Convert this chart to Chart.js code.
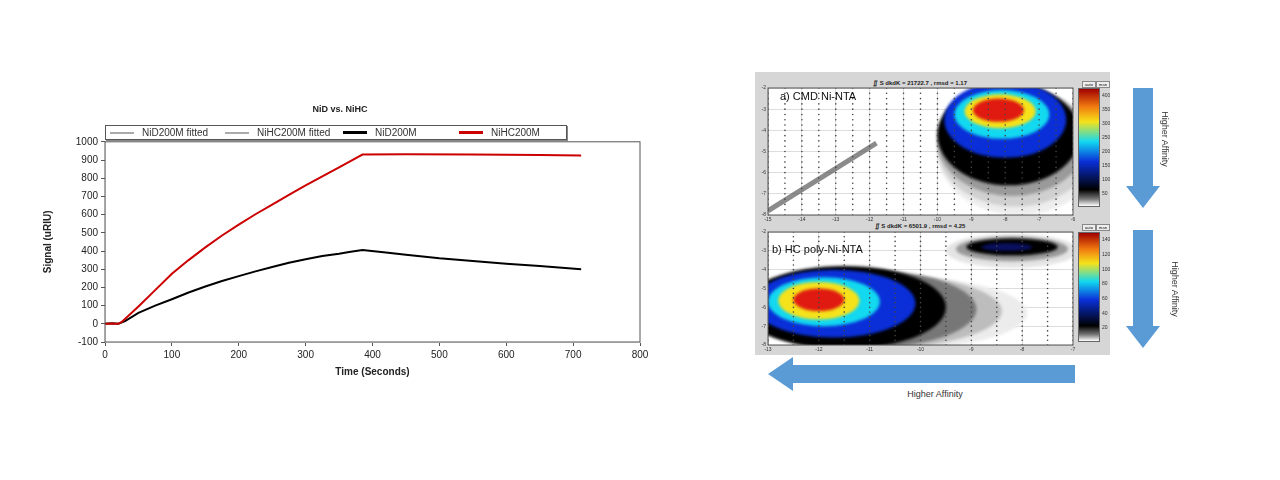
<!DOCTYPE html>
<html><head><meta charset="utf-8">
<script src="https://cdn.jsdelivr.net/npm/chart.js@4"></script>
<style>
body{margin:0;width:1280px;height:480px;background:#fff;position:relative;overflow:hidden;font-family:"Liberation Sans",Arial,sans-serif}
.abs{position:absolute}
#legend{left:105px;top:125px;width:460px;height:13px;border:1px solid #555;box-shadow:1px 1px 0 #888;font-size:10px;color:#333;white-space:nowrap}
#legend span{position:absolute;top:0;display:inline-flex;align-items:center;height:13px}
#legend i{display:inline-block;width:24px;margin-right:8px}
.cb{width:20px;border:1px solid #666}
.cbl{font-size:5px;color:#333}
.ptitle{font-size:6px;font-weight:bold;color:#222;width:330px;text-align:center}
.plabel{font-size:11px;color:#111}
.btn{font-size:4px;border:1px solid #888;background:#eee;width:12px;height:5px;text-align:center;line-height:5px}
.shaft{background:#5b9bd5}
.rot{font-size:9px;color:#333;transform:rotate(90deg);transform-origin:center;white-space:nowrap}
</style></head><body>
<div class="abs" style="left:40px;top:100px;width:620px;height:280px"><canvas id="kin"></canvas></div>
<div id="legend" class="abs">
  <span style="left:4px"><i style="border-top:2px solid #aaa"></i>NiD200M fitted</span>
  <span style="left:119px"><i style="border-top:2px solid #aaa"></i>NiHC200M fitted</span>
  <span style="left:237px"><i style="border-top:3px solid #000"></i>NiD200M</span>
  <span style="left:353px"><i style="border-top:3px solid #c00"></i>NiHC200M</span>
</div>

<div class="abs" style="left:755px;top:72px;width:355px;height:283px;background:#d6d6d6"></div>
<div class="abs ptitle" style="left:755px;top:79px">∬ S dkdK = 21722.7 , rmsd = 1.17</div>
<div class="abs" style="left:755px;top:80px;width:325px;height:142px"><canvas id="pa"></canvas></div>
<div class="abs plabel" style="left:780px;top:90px">a) CMD Ni-NTA</div>
<div class="abs ptitle" style="left:755px;top:222px">∬ S dkdK = 6501.9 , rmsd = 4.25</div>
<div class="abs" style="left:755px;top:225px;width:325px;height:127px"><canvas id="pb"></canvas></div>
<div class="abs plabel" style="left:772px;top:243px">b) HC poly-Ni-NTA</div>
<div class="abs btn" style="left:1082px;top:81px">auto</div><div class="abs btn" style="left:1096px;top:81px">man</div>
<div class="abs btn" style="left:1082px;top:224px">auto</div><div class="abs btn" style="left:1096px;top:224px">man</div>
<div id="cba" class="abs cb" style="left:1078px;top:88px;height:117px"></div>
<div id="cbb" class="abs cb" style="left:1078px;top:232px;height:108px"></div>

<div class="abs shaft" style="left:1133px;top:88px;width:20px;height:98px"></div>
<div class="abs" style="left:1126px;top:186px;width:0;height:0;border-left:17px solid transparent;border-right:17px solid transparent;border-top:22px solid #5b9bd5"></div>
<div class="abs rot" style="left:1130px;top:134px;width:70px;text-align:center">Higher Affinity</div>
<div class="abs shaft" style="left:1133px;top:230px;width:20px;height:96px"></div>
<div class="abs" style="left:1126px;top:326px;width:0;height:0;border-left:17px solid transparent;border-right:17px solid transparent;border-top:22px solid #5b9bd5"></div>
<div class="abs rot" style="left:1140px;top:284px;width:70px;text-align:center">Higher Affinity</div>
<div class="abs shaft" style="left:792px;top:365px;width:283px;height:18px"></div>
<div class="abs" style="left:768px;top:357px;width:0;height:0;border-top:17px solid transparent;border-bottom:17px solid transparent;border-right:25px solid #5b9bd5"></div>
<div class="abs" style="left:880px;top:389px;width:110px;text-align:center;font-size:9px;color:#333">Higher Affinity</div>

<script>
// kinetic sensorgram (seconds, uRIU)
const tRed = [0, 10, 20, 25, 50, 75, 100, 125, 150, 175, 200, 225, 250, 275, 300, 325, 350, 365, 385, 450, 550, 650, 712];
const yRed = [0, 2, 0, 10, 95, 185, 275, 350, 420, 485, 545, 602, 655, 708, 760, 810, 860, 890, 930, 932, 930, 927, 925];
const tBlack = [0, 10, 20, 30, 50, 75, 100, 125, 150, 175, 200, 225, 250, 275, 300, 325, 350, 365, 385, 420, 450, 475, 500, 550, 600, 650, 712];
const yBlack = [0, 3, 0, 15, 60, 100, 135, 172, 205, 235, 262, 288, 312, 335, 355, 372, 385, 395, 405, 392, 380, 370, 360, 345, 330, 318, 300];
const xTicks = [0, 100, 200, 300, 400, 500, 600, 700, 800];

// distribution maps: layers [cx, cy, rx, ry, colour] in log units
const layersA = [
  [-7.6, -5.0, 2.4, 3.0, '#ededed'], [-7.7, -4.8, 2.3, 2.8, '#d0d0d0'], [-7.8, -4.5, 2.2, 2.6, '#9a9a9a'],
  [-7.9, -4.2, 2.1, 2.4, '#000'], [-8.0, -3.5, 1.8, 1.8, '#0a2fd8'], [-8.1, -3.25, 1.4, 1.15, '#12d8f0'],
  [-8.15, -3.1, 1.05, 0.8, '#f5e21a'], [-8.2, -3.05, 0.75, 0.55, '#e01a10']
];
const layersB = [
  [-10.8, -6.3, 2.9, 2.0, '#ececec'], [-11.0, -6.2, 2.6, 2.0, '#bdbdbd'], [-11.2, -6.1, 2.3, 2.1, '#777'],
  [-11.5, -6.0, 2.0, 2.2, '#000'], [-11.7, -5.8, 1.6, 1.8, '#0a2fd8'], [-11.9, -5.7, 1.1, 1.3, '#12d8f0'],
  [-12.0, -5.65, 0.8, 1.0, '#f5e21a'], [-12.0, -5.6, 0.5, 0.6, '#e01a10'],
  [-8.2, -3.0, 1.3, 0.9, '#e4e4e4'], [-8.2, -2.9, 1.1, 0.65, '#999'], [-8.2, -2.8, 0.9, 0.45, '#000'], [-8.3, -2.8, 0.5, 0.2, '#0a1060']
];
const streakA = [{x: -15, y: -7.8}, {x: -11.8, y: -4.6}];
const ticksA = [-15, -14, -13, -12, -11, -10, -9, -8, -7, -6];
const ticksB = [-13, -12, -11, -10, -9, -8, -7];
const ticksY = [-8, -7, -6, -5, -4, -3, -2];
const cbA = ['50', '100', '150', '200', '250', '300', '350', '400'];
const cbB = ['20', '40', '60', '80', '100', '120', '140'];

const boxPlugin = {id: 'box', afterDraw(c) {
  const a = c.chartArea, ctx = c.ctx;
  ctx.save(); ctx.strokeStyle = '#555'; ctx.lineWidth = 1; ctx.strokeRect(a.left, a.top, a.right - a.left, a.bottom - a.top); ctx.restore();
}};

new Chart(document.getElementById('kin'), {
  type: 'line',
  data: {datasets: [
    {data: tRed.map((t, i) => ({x: t, y: yRed[i]})), borderColor: '#c00', borderWidth: 2, pointRadius: 0, tension: 0},
    {data: tBlack.map((t, i) => ({x: t, y: yBlack[i]})), borderColor: '#000', borderWidth: 2, pointRadius: 0, tension: 0}
  ]},
  options: {
    animation: false, responsive: true, maintainAspectRatio: false,
    layout: {padding: {right: 20, top: 0}},
    plugins: {legend: {display: false}, tooltip: {enabled: false},
      title: {display: true, text: 'NiD vs. NiHC', color: '#222', font: {size: 9, weight: 'bold'}, padding: {top: 4, bottom: 27}}},
    scales: {
      x: {type: 'linear', min: 0, max: 800, afterBuildTicks: s => { s.ticks = xTicks.map(v => ({value: v})); },
        grid: {drawOnChartArea: false, tickLength: 4, color: '#555'}, ticks: {color: '#222', font: {size: 10}},
        title: {display: true, text: 'Time (Seconds)', color: '#222', font: {size: 10, weight: 'bold'}, padding: 2}},
      y: {min: -100, max: 1000, afterFit: s => { s.width = 65; },
        grid: {drawOnChartArea: false, tickLength: 4, color: '#555'}, ticks: {stepSize: 100, color: '#222', font: {size: 10}, callback: v => String(v)},
        title: {display: true, text: 'Signal (uRIU)', color: '#222', font: {size: 10, weight: 'bold'}, padding: 2}}
    }
  },
  plugins: [boxPlugin]
});

function blobPlugin(layers) {
  return {id: 'blobs', beforeDatasetsDraw(c) {
    const ctx = c.ctx, a = c.chartArea, xs = c.scales.x, ys = c.scales.y;
    ctx.save(); ctx.beginPath(); ctx.rect(a.left, a.top, a.right - a.left, a.bottom - a.top); ctx.clip();
    ctx.filter = 'blur(1.5px)';
    layers.forEach(([cx, cy, rx, ry, col]) => {
      const px = xs.getPixelForValue(cx), py = ys.getPixelForValue(cy);
      const w = Math.abs(xs.getPixelForValue(cx + rx) - px), h = Math.abs(ys.getPixelForValue(cy + ry) - py);
      ctx.fillStyle = col; ctx.beginPath(); ctx.ellipse(px, py, w, h, 0, 0, Math.PI * 2); ctx.fill();
    });
    ctx.restore();
  }};
}

function mapChart(id, xt, layers, extra, top) {
  const grid = [];
  xt.forEach(x => { for (let k = 0; k < 2; k++) ticksY.forEach(y => { for (let j = 0; j < 4; j++) grid.push({x: x + k * 0.5, y: y + j * 0.25}); }); });
  const sets = [{type: 'scatter', data: grid, pointRadius: 0.8, backgroundColor: '#444', borderWidth: 0}];
  if (extra) sets.push({type: 'line', data: extra, borderColor: 'rgba(90,90,90,0.7)', borderWidth: 5, pointRadius: 0});
  new Chart(document.getElementById(id), {
    type: 'scatter', data: {datasets: sets},
    options: {
      animation: false, responsive: true, maintainAspectRatio: false,
      layout: {padding: {right: 7, top: top}},
      plugins: {legend: {display: false}, tooltip: {enabled: false}},
      scales: {
        x: {type: 'linear', min: xt[0], max: xt[xt.length - 1], afterBuildTicks: s => { s.ticks = xt.map(v => ({value: v})); },
          afterFit: s => { s.height = 7; }, grid: {color: '#ddd', tickLength: 2}, ticks: {font: {size: 5}, color: '#333', padding: 0}},
        y: {min: -8, max: -2, afterBuildTicks: s => { s.ticks = ticksY.map(v => ({value: v})); },
          afterFit: s => { s.width = 13; }, grid: {color: '#ddd', tickLength: 2}, ticks: {font: {size: 5}, color: '#333', padding: 0}}
      }
    },
    plugins: [blobPlugin(layers), boxPlugin, {id: 'bg', beforeDraw(c) { const a = c.chartArea; c.ctx.fillStyle = '#fff'; c.ctx.fillRect(a.left, a.top, a.right - a.left, a.bottom - a.top); }}]
  });
}
mapChart('pa', ticksA, layersA, streakA, 8);
mapChart('pb', ticksB, layersB, null, 7);

function colorbar(id, labels) {
  const el = document.getElementById(id);
  el.style.background = 'linear-gradient(to top,#fff 0%,#777 6%,#000 14%,#0a2fd8 38%,#12d8f0 55%,#f5e21a 72%,#f07a10 85%,#a00000 100%)';
  const h = el.offsetHeight, top = el.offsetTop, left = el.offsetLeft + 24;
  labels.forEach((l, i) => {
    const d = document.createElement('div');
    d.className = 'abs cbl'; d.textContent = l;
    d.style.left = left + 'px'; d.style.top = (top + h - (i + 1) * h / (labels.length + 0.5) - 3) + 'px';
    document.body.appendChild(d);
  });
}
colorbar('cba', cbA);
colorbar('cbb', cbB);
</script>
</body></html>
